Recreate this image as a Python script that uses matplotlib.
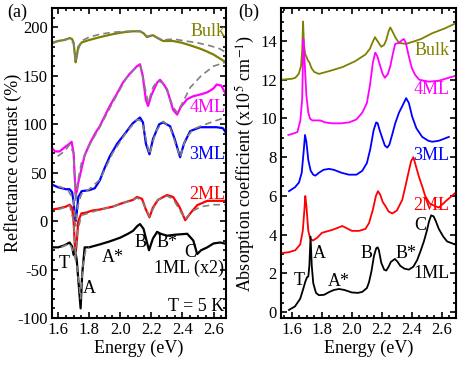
import numpy as np
import matplotlib
matplotlib.use("Agg")
import matplotlib.pyplot as plt
from matplotlib.ticker import MultipleLocator

plt.rcParams['font.family'] = ['Liberation Serif', 'DejaVu Serif']
plt.rcParams['mathtext.fontset'] = 'stix'
plt.rcParams['axes.unicode_minus'] = False

OLIVE = '#808000'

# ---- panel (a): reflectance contrast ----
e_bulk = [1.558, 1.60, 1.64, 1.675, 1.69, 1.70, 1.708, 1.713, 1.72, 1.73, 1.752, 1.80, 1.87, 1.95,
          2.02, 2.08, 2.127, 2.15, 2.172, 2.19, 2.211, 2.24, 2.276, 2.34, 2.40, 2.46, 2.515, 2.56,
          2.60, 2.64, 2.68]
r_bulk = [184, 186, 187, 189, 188, 184, 172, 164, 170, 180, 184.5, 187, 190, 193,
          195, 196, 196, 194, 190, 191, 192, 189, 186, 186, 184, 181, 178, 175,
          172, 168, 164]
e_bulk_fit = [1.56, 1.60, 1.66, 1.70, 1.713, 1.725, 1.75, 1.80, 1.87, 1.95, 2.05, 2.13, 2.17,
              2.21, 2.27, 2.34, 2.42, 2.50, 2.58, 2.64, 2.68]
r_bulk_fit = [183, 186, 188, 184, 165, 175, 186, 190, 193, 195, 196, 196, 191,
              192, 187, 188, 186, 184, 181, 178, 174]

e_4ml = [1.558, 1.58, 1.61, 1.64, 1.674, 1.687, 1.70, 1.706, 1.713, 1.72, 1.73, 1.739, 1.771,
         1.804, 1.836, 1.868, 1.933, 1.98, 2.017, 2.06, 2.108, 2.127, 2.145, 2.165, 2.179, 2.20,
         2.237, 2.256, 2.276, 2.301, 2.34, 2.366, 2.39, 2.431, 2.47, 2.52, 2.56, 2.60, 2.62,
         2.65, 2.695]
r_4ml = [76, 72, 72, 76, 80, 82, 70, 50, 28, 30, 40, 46, 68,
         80, 90, 98, 119, 132, 143, 152, 160, 162, 150, 125, 119, 130,
         143, 146, 142, 136, 115, 110, 118, 126, 129, 131, 133, 137, 141,
         140, 126]
e_4ml_fit = [1.597, 1.64, 1.674, 1.70, 1.713, 1.726, 1.75, 1.80, 1.868, 1.95, 2.04, 2.108, 2.13,
             2.15, 2.179, 2.21, 2.24, 2.27, 2.30, 2.34, 2.366, 2.40, 2.45, 2.52, 2.60, 2.695]
r_4ml_fit = [67, 72, 79, 70, 20, 40, 60, 78, 97, 122, 148, 160, 160,
             145, 122, 138, 145, 143, 135, 118, 112, 122, 138, 150, 160, 165]

e_3ml = [1.558, 1.60, 1.65, 1.674, 1.69, 1.70, 1.708, 1.713, 1.72, 1.73, 1.752, 1.80, 1.836,
         1.868, 1.90, 1.933, 1.98, 2.043, 2.08, 2.127, 2.146, 2.165, 2.188, 2.211, 2.25, 2.276,
         2.321, 2.35, 2.385, 2.41, 2.45, 2.515, 2.56, 2.62, 2.66, 2.695]
r_3ml = [38, 35, 33, 33, 30, 20, 5, 0, 8, 25, 31, 32, 34,
         42, 55, 67, 80, 93, 101, 107, 102, 80, 69, 85, 100, 102,
         98, 85, 66, 80, 93, 97, 97, 97, 96, 88]
e_3ml_fit = [1.60, 1.66, 1.70, 1.713, 1.726, 1.75, 1.80, 1.87, 1.95, 2.04, 2.11, 2.14, 2.188,
             2.23, 2.276, 2.32, 2.385, 2.42, 2.47, 2.515, 2.60, 2.695]
r_3ml_fit = [36, 33, 22, -5, 15, 28, 33, 43, 70, 92, 105, 103, 69,
             93, 103, 97, 66, 85, 95, 98, 103, 108]

e_2ml = [1.558, 1.60, 1.65, 1.675, 1.69, 1.70, 1.708, 1.713, 1.72, 1.73, 1.75, 1.784, 1.82,
         1.868, 1.952, 2.02, 2.082, 2.108, 2.14, 2.165, 2.188, 2.21, 2.243, 2.301, 2.34, 2.38,
         2.418, 2.45, 2.495, 2.56, 2.62, 2.695]
r_2ml = [12, 13, 15, 17, 14, 0, -25, -33, -22, 0, 8, 9, 11,
         12, 15, 19, 22, 25, 23, 12, 4, 14, 22, 27, 25, 15,
         1, 8, 16.5, 21, 21, 21]
e_2ml_fit = [1.60, 1.675, 1.70, 1.713, 1.726, 1.75, 1.85, 1.95, 2.08, 2.11, 2.14, 2.188, 2.24,
             2.30, 2.34, 2.418, 2.46, 2.52, 2.60, 2.695]
r_2ml_fit = [12, 16, 0, -38, -10, 6, 11, 15, 22, 24, 21, 5, 22,
             26, 23, 2, 10, 15, 17, 17]

e_1ml = [1.558, 1.60, 1.64, 1.674, 1.69, 1.70, 1.71, 1.72, 1.73, 1.745, 1.755, 1.771, 1.80,
         1.868, 1.93, 2.00, 2.05, 2.082, 2.11, 2.127, 2.15, 2.172, 2.185, 2.21, 2.237, 2.26,
         2.301, 2.35, 2.431, 2.47, 2.495, 2.52, 2.56, 2.60, 2.644, 2.695]
r_1ml = [-27, -27, -25, -22, -26, -35, -30, -40, -60, -90, -55, -27, -27,
         -24, -21, -17, -13, -10, -5, -3, -8, -22, -30, -18, -11, -13,
         -15, -14, -13, -20, -34, -30, -27, -23, -22, -24]
e_1ml_fit = [1.62, 1.674, 1.70, 1.72, 1.745, 1.76, 1.78, 1.80]
r_1ml_fit = [-27, -23, -32, -45, -80, -45, -28, -27]

# ---- panel (b): absorption coefficient (x1e5 cm^-1) ----
e_b_bulk = [1.529, 1.60, 1.622, 1.645, 1.66, 1.668, 1.674, 1.68, 1.689, 1.696, 1.706, 1.716,
            1.73, 1.749, 1.78, 1.85, 1.936, 2.02, 2.09, 2.12, 2.136, 2.154, 2.17, 2.196, 2.215,
            2.229, 2.245, 2.256, 2.27, 2.289, 2.314, 2.36, 2.402, 2.46, 2.536, 2.62, 2.689]
a_b_bulk = [12.0, 12.05, 12.1, 12.3, 12.7, 13.5, 15.0, 13.8, 13.3, 13.2, 13.0, 12.9,
            12.6, 12.4, 12.3, 12.45, 12.65, 12.95, 13.3, 13.6, 13.9, 14.2, 14.0, 13.7, 13.8,
            14.05, 14.5, 14.7, 14.5, 14.2, 13.9, 13.85, 13.95, 14.1, 14.4, 14.65, 14.9]

e_b_4ml = [1.576, 1.60, 1.636, 1.656, 1.668, 1.676, 1.684, 1.696, 1.709, 1.72, 1.736, 1.76,
           1.789, 1.82, 1.869, 1.93, 1.982, 2.03, 2.069, 2.1, 2.122, 2.14, 2.156, 2.17, 2.189,
           2.205, 2.22, 2.24, 2.256, 2.275, 2.289, 2.314, 2.335, 2.347, 2.36, 2.38, 2.40, 2.422,
           2.45, 2.514, 2.58, 2.689]
a_b_4ml = [9.15, 9.2, 9.3, 9.9, 11.0, 14.1, 13.0, 11.2, 10.3, 10.0, 9.9, 9.9,
           9.9, 9.8, 9.75, 9.75, 9.8, 9.95, 10.3, 10.8, 11.8, 12.9, 13.4, 13.2, 12.7,
           12.3, 12.1, 12.3, 12.7, 13.4, 13.85, 13.9, 14.05, 14.1, 13.9, 13.2, 12.6, 12.25,
           12.0, 11.9, 11.95, 12.2]

e_b_3ml = [1.58, 1.62, 1.647, 1.665, 1.678, 1.687, 1.696, 1.709, 1.725, 1.742, 1.756, 1.78,
           1.81, 1.847, 1.88, 1.93, 1.98, 2.03, 2.069, 2.1, 2.122, 2.145, 2.162, 2.172, 2.185,
           2.202, 2.22, 2.236, 2.25, 2.27, 2.289, 2.314, 2.34, 2.362, 2.38, 2.402, 2.43, 2.469,
           2.51, 2.536, 2.58, 2.647]
a_b_3ml = [6.25, 6.45, 6.7, 7.2, 8.3, 9.15, 8.8, 7.85, 7.3, 7.1, 7.05, 7.2,
           7.35, 7.4, 7.35, 7.2, 7.1, 7.1, 7.3, 7.7, 8.4, 9.4, 9.8, 9.75, 9.4,
           9.0, 8.6, 8.5, 8.65, 9.2, 9.75, 10.3, 10.7, 11.05, 10.8, 10.1, 9.5, 9.05,
           8.85, 8.8, 8.85, 9.05]

e_b_2ml = [1.529, 1.58, 1.622, 1.655, 1.672, 1.682, 1.689, 1.696, 1.709, 1.722, 1.74, 1.769,
           1.80, 1.869, 1.936, 2.0, 2.047, 2.09, 2.114, 2.14, 2.16, 2.174, 2.19, 2.205, 2.222,
           2.245, 2.269, 2.3, 2.336, 2.36, 2.38, 2.395, 2.41, 2.425, 2.447, 2.469, 2.489,
           2.52, 2.58, 2.636, 2.689]
a_b_2ml = [3.05, 3.1, 3.2, 3.5, 4.2, 5.2, 6.0, 5.5, 4.2, 3.8, 3.7, 3.85,
           4.1, 4.25, 4.45, 4.2, 4.2, 4.3, 4.6, 5.3, 6.0, 6.25, 6.05, 5.7, 5.5,
           5.2, 5.1, 5.25, 5.8, 6.6, 7.3, 7.8, 8.0, 7.6, 7.0, 6.5, 6.0,
           5.6, 5.4, 5.8, 6.15]

e_b_1ml = [1.58, 1.62, 1.655, 1.675, 1.69, 1.70, 1.709, 1.716, 1.724, 1.732, 1.742, 1.76,
           1.78, 1.814, 1.85, 1.88, 1.914, 1.95, 2.0, 2.04, 2.069, 2.1, 2.114, 2.13, 2.147,
           2.162, 2.172, 2.18, 2.196, 2.215, 2.229, 2.245, 2.26, 2.287, 2.305, 2.322, 2.35, 2.38,
           2.41, 2.436, 2.46, 2.48, 2.5, 2.515, 2.529, 2.545, 2.56, 2.58, 2.61, 2.636, 2.689]
a_b_1ml = [0.12, 0.3, 0.7, 1.2, 1.6, 1.8, 1.85, 2.4, 3.9, 2.4, 1.5, 1.0,
           0.88, 0.9, 1.05, 1.15, 1.2, 1.15, 1.02, 1.0, 1.05, 1.25, 1.55, 2.1, 2.9,
           3.3, 3.35, 3.2, 2.55, 2.2, 2.15, 2.35, 2.6, 2.75, 2.6, 2.4, 2.25, 2.2,
           2.35, 2.7, 3.2, 3.65, 4.2, 4.7, 5.0, 4.95, 4.7, 4.3, 3.9, 3.65, 3.5]

fig = plt.figure(figsize=(4.63, 3.66), dpi=100)
ax1 = fig.add_axes([0.112, 0.131, 0.376, 0.847])
ax2 = fig.add_axes([0.607, 0.131, 0.378, 0.847])

fits = [(e_bulk_fit, r_bulk_fit), (e_4ml_fit, r_4ml_fit), (e_3ml_fit, r_3ml_fit),
        (e_2ml_fit, r_2ml_fit), (e_1ml_fit, r_1ml_fit)]
data_a = [(e_bulk, r_bulk, OLIVE), (e_4ml, r_4ml, 'magenta'), (e_3ml, r_3ml, 'blue'),
          (e_2ml, r_2ml, 'red'), (e_1ml, r_1ml, 'black')]
for e, r, c in data_a:
    ax1.plot(e, r, color=c, lw=1.6)
for e, r in fits:
    ax1.plot(e, r, color='gray', lw=1.2, ls=(0, (4, 2.5)))

data_b = [(e_b_bulk, a_b_bulk, OLIVE), (e_b_4ml, a_b_4ml, 'magenta'), (e_b_3ml, a_b_3ml, 'blue'),
          (e_b_2ml, a_b_2ml, 'red'), (e_b_1ml, a_b_1ml, 'black')]
for e, a, c in data_b:
    ax2.plot(e, a, color=c, lw=1.3)

fs = 13
ax1.text(2.675, 196, 'Bulk', color=OLIVE, fontsize=fs, ha='right', va='center')
ax1.text(2.675, 117, '4ML', color='magenta', fontsize=fs, ha='right', va='center')
ax1.text(2.675, 69, '3ML', color='blue', fontsize=fs, ha='right', va='center')
ax1.text(2.675, 28, '2ML', color='red', fontsize=fs, ha='right', va='center')
ax1.text(2.67, -49, '1ML (x2)', color='black', fontsize=fs, ha='right', va='center')
ax1.text(2.67, -88, 'T = 5 K', color='black', fontsize=fs, ha='right', va='center')
for s, x, y in [('T', 1.64, -44), ('A', 1.80, -70), ('A*', 1.95, -37), ('B', 2.13, -22),
                ('B*', 2.30, -22), ('C', 2.45, -32)]:
    ax1.text(x, y, s, fontsize=fs, ha='center', va='center')

ax2.text(2.65, 13.5, 'Bulk', color=OLIVE, fontsize=fs, ha='right', va='center')
ax2.text(2.65, 11.5, '4ML', color='magenta', fontsize=fs, ha='right', va='center')
ax2.text(2.65, 8.1, '3ML', color='blue', fontsize=fs, ha='right', va='center')
ax2.text(2.65, 5.5, '2ML', color='red', fontsize=fs, ha='right', va='center')
ax2.text(2.65, 2.0, '1ML', color='black', fontsize=fs, ha='right', va='center')
for s, x, y in [('T', 1.647, 1.65), ('A', 1.78, 3.05), ('A*', 1.91, 1.6), ('B', 2.10, 3.05),
                ('B*', 2.36, 3.05), ('C', 2.455, 4.5)]:
    ax2.text(x, y, s, fontsize=fs, ha='center', va='center')

ax1.set_xlim(1.56, 2.68)
ax1.set_ylim(-100, 220)
ax2.set_xlim(1.527, 2.695)
ax2.set_ylim(-0.3, 15.7)

for ax in (ax1, ax2):
    ax.xaxis.set_major_locator(MultipleLocator(0.2))
    ax.xaxis.set_minor_locator(MultipleLocator(0.05))
    ax.tick_params(which='both', direction='in', top=True, right=True, labelsize=12, width=1.2)
    ax.tick_params(which='major', length=4, pad=3)
    ax.tick_params(which='minor', length=2)
    for sp in ax.spines.values():
        sp.set_linewidth(1.5)
    ax.set_xlabel('Energy (eV)', fontsize=13, labelpad=1)
    ax.xaxis.set_major_formatter(plt.FuncFormatter(lambda v, p: f'{v:.1f}'))

ax1.yaxis.set_major_locator(MultipleLocator(50))
ax1.yaxis.set_minor_locator(MultipleLocator(10))
ax2.yaxis.set_major_locator(MultipleLocator(2))
ax2.yaxis.set_minor_locator(MultipleLocator(0.5))
ax1.set_ylabel('Reflectance contrast (%)', fontsize=13)
ax2.set_ylabel('Absorption coefficient (x10$^5$ cm$^{-1}$)', fontsize=13)
ax1.yaxis.set_label_coords(-0.17, 0.5)
ax2.yaxis.set_label_coords(-0.14, 0.5)

fig.text(0.015, 0.965, '(a)', fontsize=13, va='center')
fig.text(0.515, 0.965, '(b)', fontsize=13, va='center')

fig.savefig('out.png', dpi=100)
